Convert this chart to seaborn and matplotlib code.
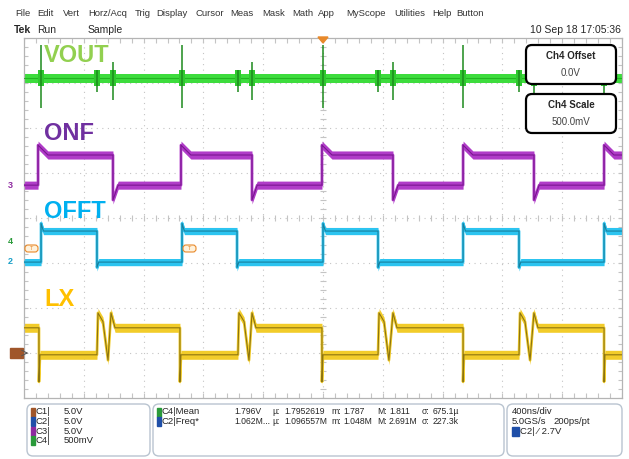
import numpy as np
import pandas as pd
import seaborn as sns
import matplotlib.pyplot as plt
from matplotlib.patches import FancyBboxPatch, Rectangle, Polygon

sns.set_style("white")
plt.rcParams['font.family'] = ['Liberation Sans', 'DejaVu Sans']

# ---- data (time in ns, 400 ns/div; amplitude in screen divisions) ----
t_onf = [0, 94, 94, 160, 595, 595, 630, 1050, 1050, 1116, 1525, 1525, 1560, 1993, 1993,
         2060, 2468, 2468, 2503, 2937, 2937, 3003, 3411, 3411, 3446, 3880, 3880, 3946, 4000]
v_onf = [0.73, 0.73, 1.62, 1.40, 1.40, 0.40, 0.73, 0.73, 1.62, 1.40, 1.40, 0.40, 0.73, 0.73, 1.62,
         1.40, 1.40, 0.40, 0.73, 0.73, 1.62, 1.40, 1.40, 0.40, 0.73, 0.73, 1.62, 1.40, 1.40]

t_offt = [0, 114, 114, 130, 488, 488, 500, 1057, 1057, 1073, 1425, 1425, 1437, 2000, 2000,
          2016, 2368, 2368, 2380, 2937, 2937, 2953, 3311, 3311, 3323, 3880, 3880, 3896, 4000]
v_offt = [-0.98, -0.98, -0.12, -0.29, -0.29, -1.10, -0.98, -0.98, -0.12, -0.29, -0.29, -1.10, -0.98, -0.98, -0.12,
          -0.29, -0.29, -1.10, -0.98, -0.98, -0.12, -0.29, -0.29, -1.10, -0.98, -0.98, -0.12, -0.29, -0.29]

t_lx = [0, 100, 100, 107, 488, 495, 528, 562, 582, 609,
        1043, 1043, 1050, 1431, 1438, 1472, 1505, 1525, 1552,
        1993, 1993, 2000, 2368, 2375, 2408, 2441, 2468, 2495,
        2937, 2937, 2943, 3311, 3318, 3351, 3385, 3411, 3438,
        3880, 3880, 3886, 4000]
v_lx = [-2.44, -2.44, -3.64, -3.04, -3.04, -2.11, -2.30, -3.16, -2.11, -2.44,
        -2.44, -3.64, -3.04, -3.04, -2.11, -2.30, -3.16, -2.11, -2.44,
        -2.44, -3.64, -3.04, -3.04, -2.11, -2.30, -3.16, -2.11, -2.44,
        -2.44, -3.64, -3.04, -3.04, -2.11, -2.30, -3.16, -2.11, -2.44,
        -2.44, -3.64, -3.04, -3.04]

vout_level = 3.11
vout_spike_t = [114, 488, 595, 1057, 1431, 1525, 2000, 2368, 2468, 2937, 3311, 3411, 3880]
vout_spike_top = [3.84, 3.29, 3.47, 3.84, 3.29, 3.47, 3.84, 3.29, 3.47, 3.84, 3.29, 3.47, 3.84]
vout_spike_bot = [2.44, 2.80, 2.62, 2.44, 2.80, 2.62, 2.44, 2.80, 2.62, 2.44, 2.80, 2.62, 2.44]

trace_names = ['VOUT', 'ONF', 'OFFT', 'LX']
label_colors = ['#92d050', '#7030a0', '#00b0f0', '#ffc000']
label_y_px = [56, 133, 211, 299]

chan_names = ['C1|', 'C2|', 'C3|', 'C4|']
chan_scales = ['5.0V', '5.0V', '5.0V', '500mV']
chan_colors = ['#a0562a', '#1f4fa8', '#8e2aa0', '#2a9a3a']

menu_items = ['File', 'Edit', 'Vert', 'Horz/Acq', 'Trig', 'Display', 'Cursor', 'Meas',
              'Mask', 'Math', 'App', 'MyScope', 'Utilities', 'Help', 'Button']
menu_x = [15, 37, 63, 88, 135, 156, 196, 230, 262, 292, 318, 346, 394, 432, 456]

# ---- figure ----
W, H = 629, 459
fig = plt.figure(figsize=(W / 100, H / 100), dpi=100)
fig.patch.set_facecolor('white')
gl, gr, gt, gb = 24, 622, 38, 398
ax = fig.add_axes([gl / W, 1 - gb / H, (gr - gl) / W, (gb - gt) / H])
ax.set_xlim(0, 4000)
ax.set_ylim(-4, 4)
ax.set_xticks([])
ax.set_yticks([])
for s in ax.spines.values():
    s.set_color('#b4b4b4')
    s.set_linewidth(0.9)

# graticule
gcol = '#c4c4c4'
for k in range(1, 10):
    ax.axvline(400 * k, color=gcol, lw=0.8, ls=(0, (1, 4)), zorder=0)
for k in range(-3, 4):
    ax.axhline(k, color=gcol, lw=0.8, ls=(0, (1, 4)), zorder=0)
minor_x = np.arange(0, 4001, 80)
minor_y = np.arange(-4, 4.01, 0.2)
ax.vlines(minor_x, -0.07, 0.07, color=gcol, lw=0.8, zorder=0)
ax.vlines(minor_x, 3.88, 4.0, color=gcol, lw=0.8, zorder=0)
ax.vlines(minor_x, -4.0, -3.88, color=gcol, lw=0.8, zorder=0)
ax.hlines(minor_y, 1980, 2020, color=gcol, lw=0.8, zorder=0)
ax.hlines(minor_y, 0, 27, color=gcol, lw=0.8, zorder=0)
ax.hlines(minor_y, 3973, 4000, color=gcol, lw=0.8, zorder=0)

# traces: bright persistence band + darker centre trace
traces = [(t_onf, v_onf, '#b03cc8', '#7a1690', 0.09),
          (t_offt, v_offt, '#2cc4f0', '#17809e', 0.08),
          (t_lx, v_lx, '#f2cc2a', '#8c7410', 0.10)]
for t, v, band, dark, bw in traces:
    t = np.asarray(t, float)
    v = np.asarray(v, float)
    ax.fill_between(t, v - bw, v + bw, color=band, lw=0, zorder=2)
    df = pd.DataFrame({'t': t, 'v': v})
    sns.lineplot(data=df, x='t', y='v', sort=False, estimator=None, ax=ax,
                 color=band, lw=2.0, zorder=3)
    sns.lineplot(data=df, x='t', y='v', sort=False, estimator=None, ax=ax,
                 color=dark, lw=0.8, zorder=4)

# VOUT: flat noisy line with switching spikes
ax.fill_between([0, 4000], vout_level - 0.10, vout_level + 0.10, color='#3ddc3d', lw=0, zorder=2)
ax.axhline(vout_level, color='#22b522', lw=0.8, zorder=3)
for t, top, bot in zip(vout_spike_t, vout_spike_top, vout_spike_bot):
    ax.fill_between([t - 20, t + 20], vout_level - 0.17, vout_level + 0.17, color='#2fc82f', lw=0, zorder=3)
    ax.vlines(t, bot, top, color='#1c8a1c', lw=1.1, zorder=4)
ax.set_xlabel('')
ax.set_ylabel('')

# ---- overlay in pixel coordinates ----
ov = fig.add_axes([0, 0, 1, 1])
ov.set_xlim(0, W)
ov.set_ylim(H, 0)
ov.axis('off')
ov.patch.set_alpha(0)

for name, col, yy in zip(trace_names, label_colors, label_y_px):
    ov.text(44, yy, name, color=col, fontsize=17, fontweight='bold', va='center', ha='left')

# menu + status line
for item, x in zip(menu_items, menu_x):
    ov.text(x, 14, item, fontsize=6.8, color='#333333', va='center')
ov.text(14, 30, 'Tek', fontsize=7.5, fontweight='bold', va='center')
ov.text(37, 30, 'Run', fontsize=7.5, va='center')
ov.text(88, 30, 'Sample', fontsize=7.5, va='center')
ov.text(621, 30, '10 Sep 18 17:05:36', fontsize=7.5, va='center', ha='right')

# trigger position marker
ov.add_patch(Polygon([[318, 37], [328, 37], [323, 43]], closed=True, color='#e8892a', zorder=5))

# channel markers
ov.text(8, 186, '3', color='#8e2aa0', fontsize=6.5, fontweight='bold', va='center')
ov.text(8, 242, '4', color='#2a9a3a', fontsize=6.5, fontweight='bold', va='center')
ov.text(8, 262, '2', color='#1aa0c8', fontsize=6.5, fontweight='bold', va='center')
ov.add_patch(Rectangle((10, 348), 13, 10, color='#a0562a'))
ov.annotate('', xy=(31, 353), xytext=(23, 353),
            arrowprops=dict(arrowstyle='->', color='#555555', lw=0.7))
for x0 in [25, 183]:
    ov.add_patch(FancyBboxPatch((x0, 245), 13, 7, boxstyle='round,pad=0,rounding_size=3',
                                fc='#fff2dc', ec='#e8892a', lw=0.8))
    ov.text(x0 + 6.5, 248.5, 'T', color='#e8892a', fontsize=4, ha='center', va='center')

# Ch4 info boxes
for y0, title, val in [(45, 'Ch4 Offset', '0.0V'), (94, 'Ch4 Scale', '500.0mV')]:
    ov.add_patch(FancyBboxPatch((526, y0), 90, 39, boxstyle='round,pad=0,rounding_size=6',
                                fc='white', ec='black', lw=1.6, zorder=6))
    ov.text(571, y0 + 11, title, fontsize=7, fontweight='bold', ha='center', va='center', zorder=7)
    ov.text(571, y0 + 28, val, fontsize=7, color='#444444', ha='center', va='center', zorder=7)

# bottom readout boxes
for x0, x1 in [(27, 150), (153, 504), (507, 622)]:
    ov.add_patch(FancyBboxPatch((x0, 404), x1 - x0, 52, boxstyle='round,pad=0,rounding_size=6',
                                fc='white', ec='#b9c4d0', lw=1.0))
rows = [412, 421.5, 431, 440.5]
fs = 6.8
for y, nm, sc, c in zip(rows, chan_names, chan_scales, chan_colors):
    ov.add_patch(Rectangle((31, y - 4.5), 4, 9, color=c))
    ov.text(36, y, nm, fontsize=fs, va='center')
    ov.text(64, y, sc, fontsize=fs, va='center')

meas = [('C4|Mean', '#2a9a3a', ['1.796V', 'µ:', '1.7952619', 'm:', '1.787', 'M:', '1.811', 'σ:', '675.1µ']),
        ('C2|Freq*', '#1f4fa8', ['1.062M...', 'µ:', '1.096557M', 'm:', '1.048M', 'M:', '2.691M', 'σ:', '227.3k'])]
meas_x = [234, 272, 284, 331, 343, 377, 389, 422, 433]
for y, (nm, c, vals) in zip(rows[:2], meas):
    ov.add_patch(Rectangle((157, y - 4.5), 4, 9, color=c))
    ov.text(162, y, nm, fontsize=fs, va='center')
    for x, s in zip(meas_x, vals):
        ov.text(x, y, s, fontsize=6.2, va='center')

ov.text(512, 412, '400ns/div', fontsize=fs, va='center')
ov.text(512, 421.5, '5.0GS/s', fontsize=fs, va='center')
ov.text(553, 421.5, '200ps/pt', fontsize=fs, va='center')
ov.add_patch(Rectangle((512, 426.5), 7, 9, color='#1f4fa8'))
ov.text(520, 431, 'C2| ⁄ 2.7V', fontsize=fs, va='center')

fig.savefig('out.png', dpi=100, facecolor='white')
